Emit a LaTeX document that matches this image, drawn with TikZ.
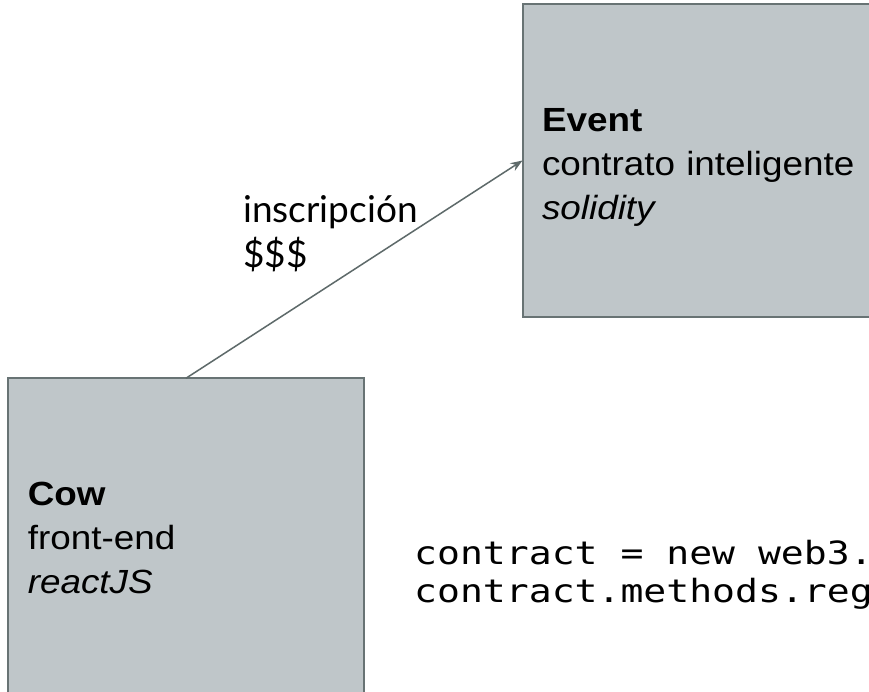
\documentclass[tikz,border=0pt]{standalone}
\usepackage{fontspec}
\usetikzlibrary{arrows.meta}
\newfontfamily\boxfont[FakeStretch=1.1]{Liberation Sans}
\newfontfamily\labelfont{Lato}
\newfontfamily\codefont[FakeStretch=1.19]{DejaVu Sans Mono}
\definecolor{boxfill}{HTML}{BFC6C9}
\definecolor{boxline}{HTML}{687374}
\definecolor{arrowcol}{HTML}{5E6A6A}
\tikzset{
  block/.style={draw=boxline, fill=boxfill, line width=2pt, rectangle, outer sep=0pt,
    inner xsep=19.5pt, inner ysep=0pt, align=left, anchor=north west,
    font=\boxfont\fontsize{33.5}{44}\selectfont},
  link/.style={draw=arrowcol, line width=1.5pt, -{Stealth[length=12pt,width=9pt]}},
  lbl/.style={inner sep=0pt, align=left, anchor=base west, font=\labelfont\fontsize{37}{45}\selectfont},
  code/.style={inner sep=0pt, align=left, anchor=base west, font=\codefont\fontsize{32}{38}\selectfont}
}
\begin{document}
\begin{tikzpicture}[x=1pt,y=-1pt]
\useasboundingbox (0,0) rectangle (869,691);
\clip (0,0) rectangle (869,691);
\fill[white] (0,0) rectangle (869,691);
\node[block, minimum width=420pt, minimum height=313pt, text width=381pt] (event) at (522.5,4)
  {\rule{0pt}{36pt}\textbf{Event}\\contrato inteligente\\\textit{solidity}};
\node[block, minimum width=355.2pt, minimum height=320pt, text width=316.2pt] (cow) at (8.3,378.3)
  {\textbf{Cow}\\front-end\\\textit{reactJS}};
\draw[link] (cow.north) -- (event.west);
\node[lbl] (label) at (243,267) {inscripción\\\$\$\$};
\node[code] (codetext) at (414,602) {contract = new web3.\\contract.methods.reg};
\end{tikzpicture}
\end{document}
